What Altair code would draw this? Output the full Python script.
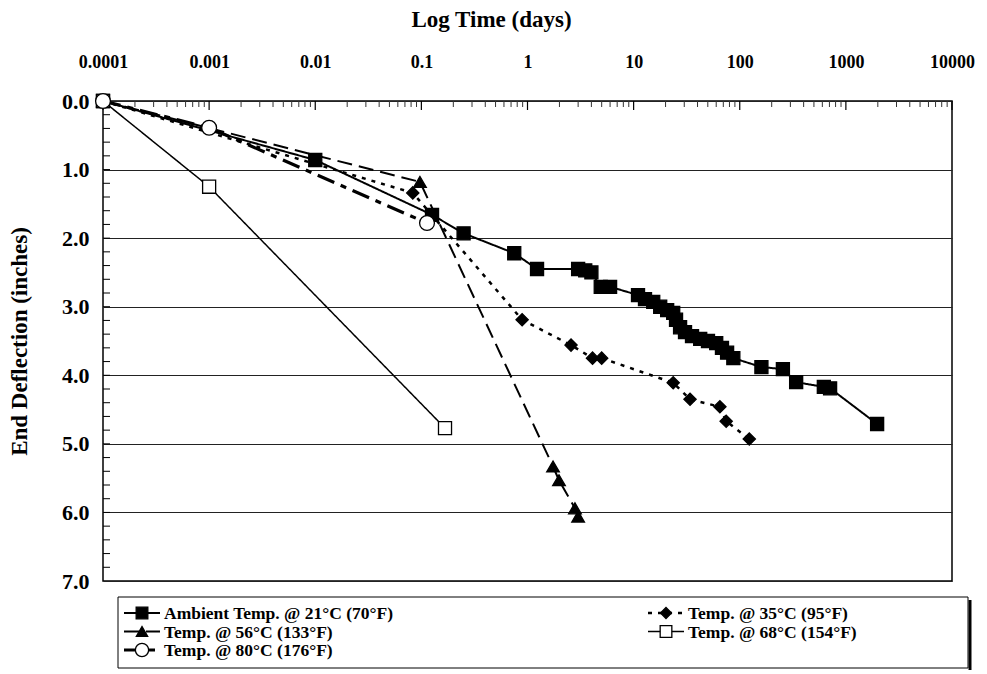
import altair as alt
import pandas as pd

# ---------------- data ----------------
amb_t = [0.0001, 0.01, 0.126, 0.25, 0.75, 1.23, 3.0, 3.5, 4.0, 4.9, 6.0, 11.0, 12.8,
         15.3, 17.8, 20.7, 23.6, 25.1, 27.4, 30.5, 35.5, 42.4, 50.2, 60, 68, 76, 87,
         160, 255, 340, 620, 710, 1970]
amb_d = [0.0, 0.86, 1.66, 1.93, 2.22, 2.45, 2.45, 2.47, 2.50, 2.71, 2.71, 2.83, 2.89,
         2.93, 3.00, 3.05, 3.09, 3.19, 3.30, 3.37, 3.43, 3.47, 3.50, 3.53, 3.60, 3.67, 3.75,
         3.88, 3.91, 4.10, 4.17, 4.19, 4.71]

t35_t = [0.0001, 0.083, 0.89, 2.57, 4.1, 5.0, 23.6, 34, 65, 74.5, 123]
t35_d = [0.0, 1.34, 3.19, 3.56, 3.75, 3.75, 4.11, 4.35, 4.46, 4.67, 4.93]

t56_t = [0.0001, 0.097, 1.74, 1.98, 2.8, 3.0]
t56_d = [0.0, 1.18, 5.33, 5.53, 5.94, 6.06]

t68_t = [0.0001, 0.001, 0.167]
t68_d = [0.0, 1.25, 4.77]

t80_t = [0.0001, 0.001, 0.113]
t80_d = [0.0, 0.39, 1.78]

names = ["Ambient Temp. @ 21°C (70°F)", "Temp. @ 35°C (95°F)", "Temp. @ 56°C (133°F)",
         "Temp. @ 68°C (154°F)", "Temp. @ 80°C (176°F)"]

x_ticks = [0.0001, 0.001, 0.01, 0.1, 1, 10, 100, 1000, 10000]
y_ticks = [0, 1, 2, 3, 4, 5, 6, 7]

# ---------------- styles ----------------
styles = [
    dict(t=amb_t, d=amb_d, dash=[1, 0], width=2.0, shape="square", fill="black", size=170),
    dict(t=t35_t, d=t35_d, dash=[4, 6], width=2.5, shape="diamond", fill="black", size=150),
    dict(t=t56_t, d=t56_d, dash=[15, 7], width=2.0, shape="triangle-up", fill="black", size=160),
    dict(t=t68_t, d=t68_d, dash=[1, 0], width=1.5, shape="square", fill="white", size=170),
    dict(t=t80_t, d=t80_d, dash=[18, 7, 6, 7], width=3.2, shape="circle", fill="white", size=220),
]

FONT = "Liberation Serif"
W, H = 849, 480

x_scale = alt.Scale(type="log", domain=[0.0001, 10000], nice=False)
y_scale = alt.Scale(domain=[0, 7], reverse=True, nice=False)

x_axis = alt.Axis(orient="top", values=x_ticks, format="~f", title="Log Time (days)",
                  ticks=False, domain=False, grid=False, labelPadding=30, titlePadding=22,
                  labelFontSize=18, titleFontSize=23, labelFont=FONT, titleFont=FONT,
                  labelFontWeight="bold", titleFontWeight="bold", labelColor="black",
                  titleColor="black", labelFlush=False, titleX=388)
y_axis = alt.Axis(values=y_ticks, format=".1f", title="End Deflection (inches)",
                  ticks=False, domain=False, grid=True, gridColor="#222", gridWidth=1,
                  labelPadding=14, titlePadding=30, labelFontSize=22, titleFontSize=23,
                  labelFont=FONT, titleFont=FONT, labelFontWeight="bold",
                  titleFontWeight="bold", labelColor="black", titleColor="black")

X = alt.X("t:Q", scale=x_scale, axis=x_axis)
Y = alt.Y("d:Q", scale=y_scale, axis=y_axis)

layers = []

# inward tick marks (drawn as rules against the data scales)
xt_minor = [k * 10 ** e for e in range(-4, 4) for k in range(2, 10)]
xt_df_major = pd.DataFrame({"t": x_ticks})
xt_df_minor = pd.DataFrame({"t": xt_minor})
layers.append(alt.Chart(xt_df_major).mark_rule(color="black", strokeWidth=1.2).encode(
    x=X, y=alt.value(0), y2=alt.value(9)))
layers.append(alt.Chart(xt_df_minor).mark_rule(color="#333", strokeWidth=1).encode(
    x=X, y=alt.value(0), y2=alt.value(6)))
yt_df = pd.DataFrame({"d": [round(0.2 * i, 1) for i in range(1, 35)]})
layers.append(alt.Chart(yt_df).mark_rule(color="black", strokeWidth=1).encode(
    y=Y, x=alt.value(0), x2=alt.value(7)))

# lines
for name, s in zip(names, styles):
    df = pd.DataFrame({"t": s["t"], "d": s["d"]})
    layers.append(alt.Chart(df).mark_line(color="black", strokeWidth=s["width"],
                                          strokeDash=s["dash"]).encode(x=X, y=Y, order="t:Q"))
# markers
for name, s in zip(names, styles):
    df = pd.DataFrame({"t": s["t"], "d": s["d"]})
    layers.append(alt.Chart(df).mark_point(shape=s["shape"], filled=True, fill=s["fill"],
                                           stroke="black", strokeWidth=1.3, size=s["size"],
                                           opacity=1).encode(x=X, y=Y))

# ---------------- custom legend ----------------
one = pd.DataFrame({"k": [0]})
OX, OY = 103, 101  # plot origin in page pixels
box = dict(x1=118 - OX, x2=968 - OX, y1=597 - OY, y2=668 - OY)
layers.append(alt.Chart(one).mark_rect(fill="white", stroke="black", strokeWidth=1).encode(
    x=alt.value(box["x1"]), x2=alt.value(box["x2"]),
    y=alt.value(box["y1"]), y2=alt.value(box["y2"])))
layers.append(alt.Chart(one).mark_rule(color="black", strokeWidth=3).encode(
    x=alt.value(box["x2"] + 2), y=alt.value(box["y1"] + 3), y2=alt.value(box["y2"] + 2)))

pos = [(0, 0), (1, 0), (0, 1), (1, 1), (0, 2)]
col_x = [124 - OX, 648 - OX]
row_y = [613 - OY, 631.5 - OY, 650 - OY]
for name, s, (c, r) in zip(names, styles, pos):
    x0 = col_x[c]
    yy = row_y[r]
    layers.append(alt.Chart(one).mark_rule(color="black", strokeWidth=s["width"],
                                           strokeDash=s["dash"]).encode(
        x=alt.value(x0), x2=alt.value(x0 + 36), y=alt.value(yy)))
    layers.append(alt.Chart(one).mark_point(shape=s["shape"], filled=True, fill=s["fill"],
                                            stroke="black", strokeWidth=1.3,
                                            size=s["size"] * 0.8, opacity=1).encode(
        x=alt.value(x0 + 18), y=alt.value(yy)))
    ldf = pd.DataFrame({"label": [name]})
    layers.append(alt.Chart(ldf).mark_text(align="left", baseline="middle", font=FONT,
                                           fontWeight="bold", fontSize=17.5,
                                           color="black").encode(
        x=alt.value(x0 + 40), y=alt.value(yy + 1), text="label:N"))

chart = alt.layer(*layers).properties(
    width=W, height=H,
    autosize=alt.AutoSizeParams(type="none"),
    padding={"left": OX, "top": OY, "right": 987 - OX - W, "bottom": 674 - OY - H},
).configure_view(stroke="black", strokeWidth=1.5)

chart.save("out.html", embed_options={"renderer": "svg", "actions": False})
